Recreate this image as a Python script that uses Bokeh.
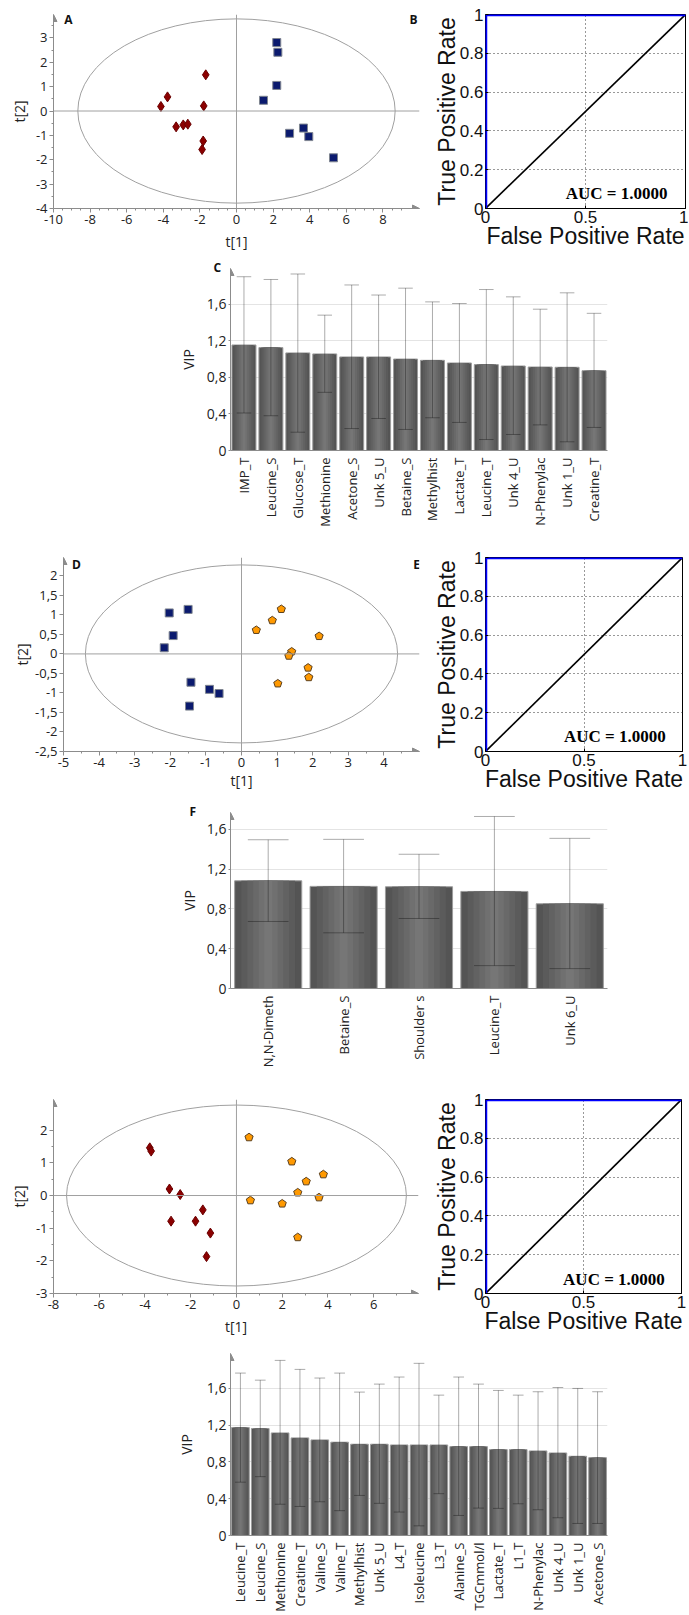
import math
from bokeh.plotting import figure
from bokeh.models import Range1d, FixedTicker, CustomJSTickFormatter, Label, Span, Arrow, NormalHead, Title
from bokeh.layouts import column, row
from bokeh.embed import file_html
from bokeh.resources import INLINE

SANS = "Open Sans"
ARIAL = "Liberation Sans"
SERIF = "Liberation Serif"
AX = "#8c8c8c"

# ---------------- data ----------------
# Panel A (score plot)
a_red_x = [-1.68, -3.77, -4.13, -1.79, -3.30, -2.91, -2.66, -1.82, -1.88]
a_red_y = [1.485, 0.58, 0.186, 0.21, -0.65, -0.57, -0.54, -1.23, -1.58]
a_blue_x = [2.20, 2.26, 2.20, 1.475, 2.90, 3.66, 3.95, 5.30]
a_blue_y = [2.81, 2.41, 1.05, 0.44, -0.915, -0.70, -1.05, -1.92]
a_ellipse = [8.67, 3.78]
a_xticks = [-10, -8, -6, -4, -2, 0, 2, 4, 6, 8]
a_yticks = [-4, -3, -2, -1, 0, 1, 2, 3]

# ROC curves (B, E and third panel)
roc_fpr = [0.0, 0.0, 1.0]
roc_tpr = [0.0, 1.0, 1.0]
chance = [0.0, 1.0]
auc_text = "AUC = 1.0000"
roc_xticks = [0, 0.5, 1]
roc_yticks = [0, 0.2, 0.4, 0.6, 0.8, 1]

# Panel C (VIP)
c_names = ["IMP_T", "Leucine_S", "Glucose_T", "Methionine", "Acetone_S", "Unk 5_U", "Betaine_S",
           "Methylhist", "Lactate_T", "Leucine_T", "Unk 4_U", "N-Phenylac", "Unk 1_U", "Creatine_T"]
c_vip = [1.154, 1.125, 1.067, 1.056, 1.023, 1.023, 1.000, 0.986, 0.957, 0.939, 0.924, 0.913, 0.910, 0.873]
c_lo = [0.41, 0.38, 0.20, 0.636, 0.24, 0.35, 0.23, 0.358, 0.307, 0.12, 0.175, 0.28, 0.095, 0.252]
c_hi = [1.90, 1.87, 1.93, 1.48, 1.81, 1.70, 1.775, 1.625, 1.607, 1.76, 1.68, 1.545, 1.724, 1.50]
vip_ticks = [0, 0.4, 0.8, 1.2, 1.6]

# Panel D (score plot)
d_blue_x = [-2.03, -1.50, -1.92, -2.17, -1.42, -0.90, -0.63, -1.46]
d_blue_y = [1.05, 1.14, 0.47, 0.157, -0.726, -0.908, -1.015, -1.337]
d_org_x = [0.416, 0.865, 1.118, 2.18, 1.41, 1.33, 1.87, 1.89, 1.02]
d_org_y = [0.61, 0.858, 1.147, 0.454, 0.058, -0.05, -0.355, -0.60, -0.76]
d_ellipse = [4.385, 2.28]
d_xticks = [-5, -4, -3, -2, -1, 0, 1, 2, 3, 4]
d_yticks = [-2.5, -2, -1.5, -1, -0.5, 0, 0.5, 1, 1.5, 2]

# Panel F (VIP)
f_names = ["N,N-Dimeth", "Betaine_S", "Shoulder s", "Leucine_T", "Unk 6_U"]
f_vip = [1.083, 1.027, 1.023, 0.976, 0.852]
f_lo = [0.674, 0.56, 0.704, 0.23, 0.20]
f_hi = [1.496, 1.50, 1.35, 1.73, 1.51]

# Third score plot
g_red_x = [-3.79, -3.73, -2.93, -2.46, -1.47, -2.86, -1.79, -1.14, -1.31]
g_red_y = [1.46, 1.36, 0.20, 0.03, -0.44, -0.785, -0.785, -1.15, -1.87]
g_org_x = [0.55, 2.42, 3.80, 3.05, 2.68, 3.61, 0.61, 2.00, 2.68]
g_org_y = [1.78, 1.04, 0.646, 0.43, 0.09, -0.06, -0.15, -0.25, -1.28]
g_ellipse = [7.43, 2.77]
g_xticks = [-8, -6, -4, -2, 0, 2, 4, 6]
g_yticks = [-3, -2, -1, 0, 1, 2]

# Third VIP plot
i_names = ["Leucine_T", "Leucine_S", "Methionine", "Creatine_T", "Valine_S", "Valine_T", "Methylhist",
           "Unk 5_U", "L4_T", "Isoleucine", "L3_T", "Alanine_S", "TGCmmol/l", "Lactate_T", "L1_T",
           "N-Phenylac", "Unk 4_U", "Unk 1_U", "Acetone_S"]
i_vip = [1.175, 1.164, 1.116, 1.062, 1.04, 1.015, 0.993, 0.993, 0.985, 0.985, 0.985, 0.967, 0.967,
         0.935, 0.935, 0.92, 0.898, 0.862, 0.847]
i_lo = [0.58, 0.64, 0.34, 0.316, 0.367, 0.27, 0.436, 0.35, 0.255, 0.105, 0.455, 0.218, 0.298,
        0.295, 0.345, 0.28, 0.193, 0.131, 0.131]
i_hi = [1.767, 1.69, 1.905, 1.807, 1.713, 1.767, 1.56, 1.647, 1.724, 1.873, 1.527, 1.724, 1.647,
        1.578, 1.527, 1.564, 1.61, 1.60, 1.564]

# ---------------- helpers ----------------
COMMA_FMT = CustomJSTickFormatter(code="""
if (Math.abs(tick - Math.round(tick)) < 1e-9) { return Math.round(tick).toString(); }
return tick.toFixed(1).replace('.', ',');
""")
DOT_FMT = CustomJSTickFormatter(code="""
if (Math.abs(tick - Math.round(tick)) < 1e-9) { return Math.round(tick).toString(); }
return tick.toFixed(1);
""")


class Panel:
    def __init__(self, left, top, width, height, fx0, fx1, fy0, fy1, xr, yr):
        self.fx0, self.fx1, self.fy0, self.fy1 = fx0, fx1, fy0, fy1
        self.top = top
        self.xr, self.yr = xr, yr
        self.sx = (fx1 - fx0) / (xr[1] - xr[0])
        self.sy = (fy1 - fy0) / (yr[1] - yr[0])
        self.p = figure(width=width, height=height, x_range=Range1d(*xr), y_range=Range1d(*yr),
                        min_border_left=fx0 - left, min_border_right=left + width - fx1,
                        min_border_top=fy0 - top, min_border_bottom=top + height - fy1,
                        output_backend="svg", toolbar_location=None, tools="")
        self.p.background_fill_color = "white"
        self.p.border_fill_color = "white"

    def at(self, px, py):
        return (self.xr[0] + (px - self.fx0) / self.sx, self.yr[1] - (py - self.fy0) / self.sy)

    def label(self, px, py, text, font=SANS, size="12px", style="bold", angle=0.0,
              align="center", color="#111111"):
        x, y = self.at(px, py)
        self.p.add_layout(Label(x=x, y=y, text=text, text_font=font, text_font_size=size,
                                text_font_style=style, text_align=align, text_baseline="middle",
                                angle=angle, text_color=color))

    def letter(self, text, left_px):
        # panel letter in the thin top border, so that it is not clipped by the frame
        self.p.add_layout(Title(text=text, align="left", offset=left_px - self.fx0,
                                standoff=-14, text_font=SANS, text_font_size="12px",
                                text_font_style="bold", text_color="#111111"), "above")


def style_axis(ax, tick_size="13px", font=SANS, color=AX):
    ax.axis_line_color = color
    ax.major_tick_line_color = color
    ax.minor_tick_line_color = color
    ax.major_label_text_font = font
    ax.major_label_text_font_size = tick_size
    ax.major_label_text_color = "#222222"
    ax.axis_label_text_font = font
    ax.axis_label_text_font_style = "normal"
    ax.axis_label_text_color = "#222222"


def scatter_panel(geom, xticks, xminor, yticks, yminor, ell, groups, letters=(),
                  xlab_standoff=4, ylab_standoff=3):
    pn = Panel(*geom)
    p = pn.p
    p.xgrid.visible = False
    p.ygrid.visible = False
    p.outline_line_color = None
    xa, ya = p.xaxis[0], p.yaxis[0]
    for ax in (xa, ya):
        style_axis(ax)
        ax.major_tick_out = 4
        ax.major_tick_in = 0
        ax.minor_tick_out = 2
        ax.minor_tick_in = 0
        ax.major_label_standoff = 2
        ax.axis_label_text_font_size = "14px"
        ax.formatter = COMMA_FMT
    xa.ticker = FixedTicker(ticks=xticks, minor_ticks=xminor)
    ya.ticker = FixedTicker(ticks=yticks, minor_ticks=yminor)
    xa.axis_label = "t[1]"
    ya.axis_label = "t[2]"
    xa.axis_label_standoff = xlab_standoff
    ya.axis_label_standoff = ylab_standoff

    p.add_layout(Span(location=0, dimension="height", line_color="#a0a0a0", line_width=1))
    p.add_layout(Span(location=0, dimension="width", line_color="#a0a0a0", line_width=1))
    p.ellipse(x=[0], y=[0], width=[2 * ell[0]], height=[2 * ell[1]], fill_color=None,
              line_color="#a0a0a0", line_width=1)

    for xs, ys, kind in groups:
        if kind == "diamond":
            p.scatter(xs, ys, marker="diamond", size=10, fill_color="#8b0000",
                      line_color="#6a0000", line_width=1)
        elif kind == "square":
            p.scatter(xs, ys, marker="square", size=8, fill_color="#0b1a6e",
                      line_color="#7f8590", line_width=1)
        else:
            r = 4.3
            pxs, pys = [], []
            for x, y in zip(xs, ys):
                angs = [math.pi / 2 + k * 2 * math.pi / 5 for k in range(5)]
                pxs.append([x + r * math.cos(a) / pn.sx for a in angs])
                pys.append([y + r * math.sin(a) / pn.sy for a in angs])
            p.patches(pxs, pys, fill_color="#ff9900", line_color="#5a4020", line_width=1)

    x0, x1 = pn.xr
    y0, y1 = pn.yr
    p.add_layout(Arrow(x_start=x1 - 0.3 * (x1 - x0) / 20, y_start=y0, x_end=x1, y_end=y0,
                       line_color=AX, line_width=1,
                       end=NormalHead(size=7, fill_color=AX, line_color=AX, line_width=1)))
    p.add_layout(Arrow(x_start=x0, y_start=y1 - 0.3 * (y1 - y0) / 20, x_end=x0, y_end=y1,
                       line_color=AX, line_width=1,
                       end=NormalHead(size=7, fill_color=AX, line_color=AX, line_width=1)))
    for (px, py, t) in letters:
        pn.label(px, py, t)
    return pn


def roc_panel(geom, auc_px, auc_py):
    pn = Panel(*geom)
    p = pn.p
    p.outline_line_color = "black"
    p.outline_line_width = 1
    xa, ya = p.xaxis[0], p.yaxis[0]
    for ax in (xa, ya):
        style_axis(ax, tick_size="17px", font=ARIAL, color="black")
        ax.major_label_text_color = "#111111"
        ax.axis_label_text_color = "#111111"
        ax.axis_label_text_font_size = "23px"
        ax.major_tick_in = 3
        ax.major_tick_out = 0
        ax.minor_tick_line_color = None
        ax.major_label_standoff = 2
        ax.axis_label_standoff = -3
        ax.formatter = DOT_FMT
    ya.axis_line_color = None
    xa.axis_label = "False Positive Rate"
    ya.axis_label = "True Positive Rate"
    xa.ticker = FixedTicker(ticks=roc_xticks)
    ya.ticker = FixedTicker(ticks=roc_yticks)
    p.xgrid.ticker = FixedTicker(ticks=[0.5])
    p.ygrid.ticker = FixedTicker(ticks=roc_yticks[1:-1])
    for g in (p.xgrid[0], p.ygrid[0]):
        g.grid_line_color = "#333333"
        g.grid_line_dash = "1 3"
        g.grid_line_width = 1
    p.line(chance, chance, line_color="black", line_width=1.6)
    p.line(roc_fpr, roc_tpr, line_color="#0000ff", line_width=3.5)
    pn.label(auc_px, auc_py, auc_text, font=SERIF, size="17px", style="bold", align="right",
             color="black")
    return pn


BAR_LAYERS = [(1.00, "#545454"), (0.80, "#5b5b5b"), (0.62, "#626262"), (0.45, "#696969"),
              (0.28, "#707070"), (0.12, "#767676")]


def bar_panel(geom, ymax, names, vip, lo, hi, letter=None, vip_standoff=6):
    left, top, width, height, fx0, fx1, fy0, fy1 = geom
    n = len(names)
    pn = Panel(left, top, width, height, fx0, fx1, fy0, fy1, (0.5, n + 0.5), (0, ymax))
    p = pn.p
    p.outline_line_color = None
    p.xgrid.visible = False
    p.ygrid.ticker = FixedTicker(ticks=vip_ticks)
    p.ygrid.grid_line_color = "#e4e4e4"
    xa, ya = p.xaxis[0], p.yaxis[0]
    style_axis(xa, tick_size="13px")
    style_axis(ya, tick_size="14px")
    pos = [i + 1 for i in range(n)]
    xa.ticker = FixedTicker(ticks=pos)
    xa.major_label_overrides = {i + 1: nm for i, nm in enumerate(names)}
    xa.major_label_orientation = math.pi / 2
    xa.major_tick_out = 0
    xa.major_tick_in = 0
    xa.minor_tick_line_color = None
    xa.major_label_standoff = 7
    ya.ticker = FixedTicker(ticks=vip_ticks)
    ya.formatter = COMMA_FMT
    ya.major_tick_out = 2
    ya.major_tick_in = 0
    ya.minor_tick_line_color = None
    ya.major_label_standoff = 2
    ya.axis_label = "VIP"
    ya.axis_label_text_font_size = "14px"
    ya.axis_label_standoff = vip_standoff
    w = 0.89
    for i, (f, col) in enumerate(BAR_LAYERS):
        if i == 0:
            p.vbar(x=pos, top=vip, bottom=0, width=w * f, fill_color=col, line_color="#9c9c9c",
                   line_width=1)
        else:
            p.vbar(x=pos, top=vip, bottom=0, width=w * f, fill_color=col, line_color=None)
    cap = 0.27
    p.segment(x0=pos, y0=lo, x1=pos, y1=hi, line_color="black", line_alpha=0.33, line_width=1)
    p.segment(x0=[x - cap for x in pos], y0=hi, x1=[x + cap for x in pos], y1=hi,
              line_color="black", line_alpha=0.33, line_width=1)
    p.segment(x0=[x - cap for x in pos], y0=lo, x1=[x + cap for x in pos], y1=lo,
              line_color="black", line_alpha=0.33, line_width=1)
    p.add_layout(Arrow(x_start=0.5, y_start=ymax - 0.06, x_end=0.5, y_end=ymax, line_color=AX,
                       line_width=1,
                       end=NormalHead(size=7, fill_color=AX, line_color=AX, line_width=1)))
    if letter:
        pn.letter(letter[1], letter[0])
    return pn


# ---------------- panels (page pixel geometry, page origin at 0,0) ----------------
# geom = (left, top, width, height, frame_x0, frame_x1, frame_y0, frame_y1, xrange, yrange)
pA = scatter_panel((0, 0, 430, 260, 53, 419, 8, 208, (-10, 10), (-4, 3.96)),
                   a_xticks, [v / 2 for v in range(-20, 19) if v % 4 != 0],
                   a_yticks, [v / 2 + 0.0 for v in range(-8, 8) if v % 2 != 0],
                   a_ellipse,
                   [(a_red_x, a_red_y, "diamond"), (a_blue_x, a_blue_y, "square")],
                   letters=[(68, 13, "A"), (413, 13, "B")], xlab_standoff=5, ylab_standoff=4)
pB = roc_panel((430, 0, 258, 260, 485, 685, 14, 212, (0, 1), (0, 1)), 667, 197)

pC = bar_panel((0, 260, 688, 270, 228, 616, 268, 450), 1.99,
               c_names, c_vip, c_lo, c_hi, letter=(211, "C"), vip_standoff=6)

pD = scatter_panel((0, 530, 430, 274, 63, 419, 550, 751, (-5, 5), (-2.5, 2.47)),
                   d_xticks, [v / 2 for v in range(-10, 10) if v % 2 != 0],
                   d_yticks, [],
                   d_ellipse,
                   [(d_blue_x, d_blue_y, "square"), (d_org_x, d_org_y, "pentagon")],
                   letters=[(76, 557, "D"), (416, 557, "E")], xlab_standoff=1, ylab_standoff=0)
pE = roc_panel((430, 530, 258, 274, 483, 682, 557, 756, (0, 1), (0, 1)), 665, 741)

pF = bar_panel((0, 804, 688, 281, 227, 607, 812, 988), 1.77,
               f_names, f_vip, f_lo, f_hi, letter=(186, "F"), vip_standoff=5)

pG = scatter_panel((0, 1085, 430, 260, 53, 418, 1094, 1293, (-8, 7.96), (-3, 2.94)),
                   g_xticks, [v for v in range(-7, 8, 2)],
                   g_yticks, [v / 2 for v in range(-5, 5, 2)],
                   g_ellipse,
                   [(g_red_x, g_red_y, "diamond"), (g_org_x, g_org_y, "pentagon")],
                   xlab_standoff=5, ylab_standoff=4)
pH = roc_panel((430, 1085, 258, 260, 481, 681, 1099, 1297, (0, 1), (0, 1)), 664, 1283)

pI = bar_panel((0, 1345, 688, 269, 230, 620, 1353, 1535), 1.98,
               i_names, i_vip, i_lo, i_hi, vip_standoff=8)

layout = column(row(pA.p, pB.p, spacing=0), pC.p, row(pD.p, pE.p, spacing=0), pF.p,
                row(pG.p, pH.p, spacing=0), pI.p, spacing=0)

with open("out.html", "w") as fh:
    fh.write(file_html(layout, INLINE))
